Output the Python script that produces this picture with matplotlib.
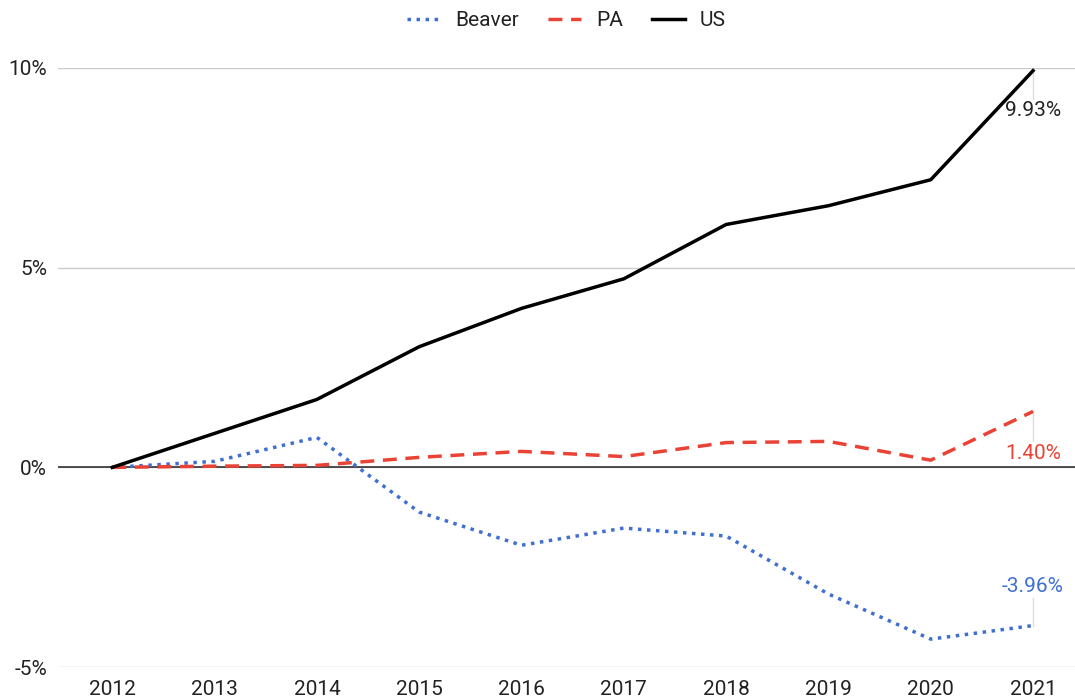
import matplotlib
matplotlib.use("Agg")
import matplotlib.pyplot as plt
from matplotlib.ticker import FuncFormatter

plt.rcParams['font.family'] = ['Roboto', 'DejaVu Sans']

years = [2012, 2013, 2014, 2015, 2016, 2017, 2018, 2019, 2020, 2021]
beaver = [0.0, 0.15, 0.75, -1.12, -1.95, -1.52, -1.72, -3.17, -4.30, -3.96]
pa = [0.0, 0.03, 0.05, 0.25, 0.40, 0.27, 0.62, 0.65, 0.18, 1.40]
us = [0.0, 0.85, 1.70, 3.02, 3.98, 4.72, 6.08, 6.55, 7.20, 9.93]

fig = plt.figure(figsize=(10.75, 7), dpi=100)
ax = fig.add_axes([0.054, 0.047, 0.946, 0.856])

ax.plot(years, beaver, color='#3f6fd1', lw=2.5, ls=(0, (1, 1.6)), label='Beaver')
ax.plot(years, pa, color='#ea4335', lw=2.5, ls=(0, (4, 2.5)), label='PA')
ax.plot(years, us, color='black', lw=2.5, label='US')

ax.set_xlim(2011.47, 2021.41)
ax.set_ylim(-5, 10)
ax.set_yticks([-5, 0, 5, 10])
ax.set_xticks(years)
ax.yaxis.set_major_formatter(FuncFormatter(lambda v, p: f"{v:.0f}%"))
ax.grid(axis='y', color='#cccccc', lw=1)
ax.axhline(0, color='#333333', lw=1.2, zorder=1)
ax.set_axisbelow(True)
for s in ax.spines.values():
    s.set_visible(False)
ax.tick_params(length=0, labelsize=15, colors='#222222')
ax.tick_params(axis='y', pad=8)
ax.tick_params(axis='x', pad=9)

# end labels with a small leader line
ends = [(us, -1.0, '#222222'), (pa, -1.05, '#ea4335'), (beaver, 0.98, '#3f6fd1')]
for series, off, tc in ends:
    v = series[-1]
    ax.plot([years[-1], years[-1]], [v, v + off * 0.7], color='#dddddd', lw=1, zorder=1)
    ax.text(years[-1], v + off, f"{v:.2f}%", color=tc, fontsize=15, ha='center', va='center')

leg = ax.legend(loc='center', bbox_to_anchor=(0.5, 1.0 + 47 / 599), ncol=3, frameon=False,
                fontsize=15, handlelength=1.6, handletextpad=0.7, columnspacing=1.4,
                borderaxespad=0)
for t in leg.get_texts():
    t.set_color('#222222')

fig.savefig('out.png', dpi=100)
